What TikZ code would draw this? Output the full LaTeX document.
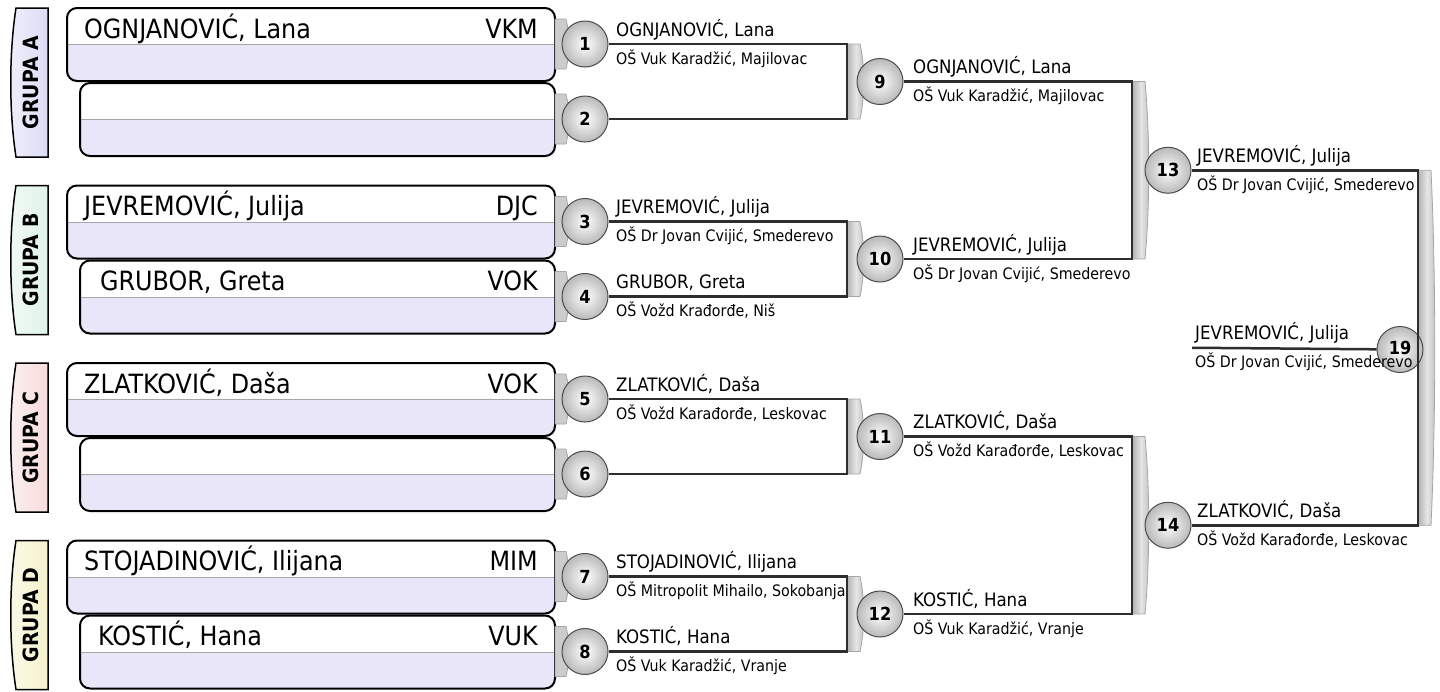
\documentclass[tikz,border=0pt]{standalone}
\usepackage{fontspec}
\setmainfont{DejaVu Sans Condensed}
\usetikzlibrary{calc}

\definecolor{slotlow}{HTML}{E8E6F8}
\definecolor{grpA}{HTML}{DCDCF6}
\definecolor{grpB}{HTML}{E0F3E8}
\definecolor{grpC}{HTML}{F8DCDC}
\definecolor{grpD}{HTML}{F6F2CC}
\definecolor{wirecol}{HTML}{2E2E2E}

\tikzset{
  match/.style={circle, draw=black!70, line width=1pt, inner color=white,
    outer color=gray!55, minimum size=46pt, inner sep=0pt,
    font=\fontsize{18}{18}\selectfont\bfseries},
  wire/.style={draw=wirecol, line width=2.5pt},
  bigname/.style={anchor=base west, inner sep=0pt, font=\fontsize{26.5}{26}\selectfont},
  club/.style={anchor=base east, inner sep=0pt, font=\fontsize{26.5}{26}\selectfont},
  winner/.style={anchor=base west, inner sep=0pt, font=\fontsize{18.5}{18}\selectfont},
  school/.style={anchor=base west, inner sep=0pt, font=\fontsize{15.8}{16}\selectfont},
  grouptab/.style={draw=black, line width=1.5pt},
  grouplabel/.style={rotate=90, inner sep=0pt, font=\fontsize{21}{21}\selectfont\bfseries},
  slot/.style={draw=black, line width=2pt, rounded corners=10pt},
  tab/.style={fill=gray!40, draw=gray!70, line width=0.8pt},
  bar/.style={left color=gray!60, right color=gray!50, middle color=gray!20,
    draw=gray!70, line width=0.8pt}
}

% one player slot: left x, top y
\newcommand{\playerslot}[2]{
  \begin{scope}
    \clip[rounded corners=10pt] (#1,#2) rectangle (555,#2+73);
    \fill[white] (#1,#2) rectangle (555,#2+36.5);
    \fill[slotlow] (#1,#2+36.5) rectangle (555,#2+73);
  \end{scope}
  \draw[gray!70, line width=1pt] (#1,#2+36.5) -- (555,#2+36.5);
  \draw[slot] (#1,#2) rectangle (555,#2+73);
}
% gray bar of a bracket: x, upper y, lower y
\newcommand{\bracketbar}[3]{
  \draw[bar] (#1,#2) -- ({#1+13},#2)
    .. controls ({#1+18},{#2+(#3-#2)*0.3}) and ({#1+18},{#3-(#3-#2)*0.3}) ..
    ({#1+13},#3) -- (#1,#3) -- cycle;
}
% winner text on a line: id, x, line y, name, school
\newcommand{\result}[5]{
  \node[winner] (w#1) at (#2,#3-8) {#4};
  \node[school] (s#1) at (#2,#3+20) {#5};
}

\begin{document}
\begin{tikzpicture}[x=1pt, y=-1pt]
\useasboundingbox (0,0) rectangle (1440,691);

\foreach \g/\col/\lab in {8/grpA/A, 185.5/grpB/B, 363/grpC/C, 540.5/grpD/D}{
  \draw[grouptab, left color=\col!45, right color=\col]
    (48,\g) -- (16,\g) .. controls (9,\g+45) and (9,\g+104) .. (16,\g+149)
    -- (48,\g+149) -- cycle;
  \node[grouplabel] (grp\lab) at (31,\g+74.5) {GRUPA \lab};
  \playerslot{67}{\g}
  \playerslot{80}{\g+75}
}

\foreach \y in {44,119,221.5,296.5,399,474,576.5,651.5}
  \draw[tab] (555,\y-25) -- (566,\y-25) .. controls (570,\y-8) and (570,\y+8) ..
    (566,\y+25) -- (555,\y+25) -- cycle;

\bracketbar{847}{44}{119}
\bracketbar{847}{221.5}{296.5}
\bracketbar{847}{399}{474}
\bracketbar{847}{576.5}{651.5}
\bracketbar{1132}{81.5}{259}
\bracketbar{1132}{436.5}{614}
\bracketbar{1418}{170.25}{525.25}

\foreach \y [count=\i] in {44,119,221.5,296.5,399,474,576.5,651.5}
  \coordinate (j\i) at (847,\y);
\foreach \y [count=\i from 9] in {81.5,259,436.5,614}
  \coordinate (j\i) at (1132,\y);
\coordinate (j13) at (1418,170.25);
\coordinate (j14) at (1418,525.25);
\coordinate (f19) at (1192,347.75);

\foreach \y [count=\i] in {44,119,221.5,296.5,399,474,576.5,651.5}
  \node[match] (m\i) at (585,\y) {\i};
\foreach \y [count=\i from 9] in {81.5,259,436.5,614}
  \node[match] (m\i) at (880,\y) {\i};
\node[match] (m13) at (1168,170.25) {13};
\node[match] (m14) at (1168,525.25) {14};
\node[match] (m19) at (1400,349.5) {\raisebox{3.5pt}{19}};

\foreach \a/\b in {1/2,3/4,5/6,7/8,9/10,11/12,13/14}
  \draw[wire] (m\a) -- (j\a) -- (j\b) -- (m\b);
\draw[wire] (f19) -- (m19);

\node[bigname] (p1) at (84,38) {OGNJANOVIĆ, Lana};
\node[club] (c1) at (538,38) {VKM};
\node[bigname] (p3) at (84,215.5) {JEVREMOVIĆ, Julija};
\node[club] (c3) at (538,215.5) {DJC};
\node[bigname] (p4) at (100,290.5) {GRUBOR, Greta};
\node[club] (c4) at (538,290.5) {VOK};
\node[bigname] (p5) at (84,393) {ZLATKOVIĆ, Daša};
\node[club] (c5) at (538,393) {VOK};
\node[bigname] (p7) at (84,570.5) {STOJADINOVIĆ, Ilijana};
\node[club] (c7) at (538,570.5) {MIM};
\node[bigname] (p8) at (98,645.5) {KOSTIĆ, Hana};
\node[club] (c8) at (538,645.5) {VUK};

\result{1}{616}{44}{OGNJANOVIĆ, Lana}{OŠ Vuk Karadžić, Majilovac}
\result{3}{616}{221.5}{JEVREMOVIĆ, Julija}{OŠ Dr Jovan Cvijić, Smederevo}
\result{4}{616}{296.5}{GRUBOR, Greta}{OŠ Vožd Krađorđe, Niš}
\result{5}{616}{399}{ZLATKOVIĆ, Daša}{OŠ Vožd Karađorđe, Leskovac}
\result{7}{616}{576.5}{STOJADINOVIĆ, Ilijana}{OŠ Mitropolit Mihailo, Sokobanja}
\result{8}{616}{651.5}{KOSTIĆ, Hana}{OŠ Vuk Karadžić, Vranje}
\result{9}{913}{81.5}{OGNJANOVIĆ, Lana}{OŠ Vuk Karadžić, Majilovac}
\result{10}{913}{259}{JEVREMOVIĆ, Julija}{OŠ Dr Jovan Cvijić, Smederevo}
\result{11}{913}{436.5}{ZLATKOVIĆ, Daša}{OŠ Vožd Karađorđe, Leskovac}
\result{12}{913}{614}{KOSTIĆ, Hana}{OŠ Vuk Karadžić, Vranje}
\result{13}{1197}{170.25}{JEVREMOVIĆ, Julija}{OŠ Dr Jovan Cvijić, Smederevo}
\result{14}{1197}{525.25}{ZLATKOVIĆ, Daša}{OŠ Vožd Karađorđe, Leskovac}
\result{19}{1195}{347.75}{JEVREMOVIĆ, Julija}{OŠ Dr Jovan Cvijić, Smederevo}
\end{tikzpicture}
\end{document}
